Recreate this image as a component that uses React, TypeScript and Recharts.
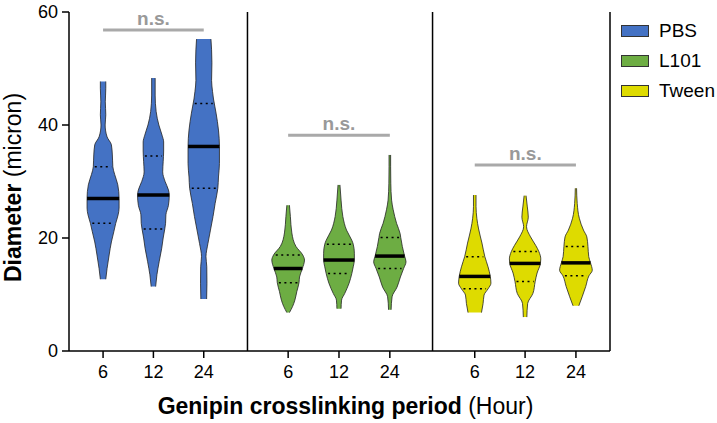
import React from 'react'
import { Area, ComposedChart, Label, ReferenceLine, XAxis, YAxis } from 'recharts'

// treatment groups + their colours
const groups = ['PBS', 'L101', 'Tween']
const groupColors = ['#4472C4', '#6DAD43', '#DEDB00']
const hours = ['6', '12', '24']

// violin centres on the x axis (1 unit ~ spacing between two violins)
const centers = [0.67, 1.66, 2.65, 4.31, 5.31, 6.31, 7.98, 8.97, 9.97]
const dividers = [3.51, 7.15]
const X_MAX = 10.64

// density profiles: [diameter, relative density]
const pbs6 = [
  [47.7, 0.17], [46.5, 0.17], [44.1, 0.14], [41.8, 0.17], [40.0, 0.13], [37.9, 0.25],
  [36.5, 0.52], [34.7, 0.58], [32.6, 0.61], [31.2, 0.73], [29.4, 0.92], [27.0, 1.0],
  [25.3, 1.0], [24.1, 0.94], [22.6, 0.79], [21.1, 0.67], [19.3, 0.52], [17.0, 0.38],
  [14.6, 0.25], [12.7, 0.17],
]
const pbs12 = [
  [48.3, 0.11], [45.3, 0.11], [42.4, 0.17], [40.0, 0.34], [38.2, 0.54], [37.0, 0.64],
  [35.4, 0.64], [33.5, 0.61], [31.7, 0.58], [30.0, 0.73], [28.5, 0.94], [27.6, 0.99],
  [25.8, 0.94], [24.1, 0.78], [22.6, 0.76], [21.6, 0.71], [20.0, 0.61], [18.2, 0.52],
  [15.8, 0.36], [13.5, 0.22], [11.4, 0.14],
]
const pbs24 = [
  [55.2, 0.45], [53.3, 0.49], [51.0, 0.51], [47.9, 0.49], [45.9, 0.55], [44.6, 0.61],
  [42.1, 0.77], [39.1, 0.92], [36.2, 0.98], [33.2, 0.98], [30.8, 0.92], [28.8, 0.88],
  [26.1, 0.71], [23.8, 0.58], [21.4, 0.42], [19.0, 0.26], [16.7, 0.14], [14.9, 0.19],
  [12.0, 0.2], [9.2, 0.18],
]
const l101_6 = [
  [25.8, 0.08], [23.8, 0.14], [20.9, 0.23], [18.5, 0.49], [17.0, 0.91], [16.1, 1.02],
  [14.6, 0.89], [13.1, 0.71], [12.1, 0.68], [10.5, 0.54], [9.0, 0.42], [7.9, 0.28],
  [6.8, 0.08],
]
const l101_12 = [
  [29.4, 0.06], [26.7, 0.13], [23.8, 0.24], [21.4, 0.47], [19.6, 0.8], [18.9, 0.89],
  [17.3, 0.96], [16.1, 0.96], [14.9, 0.89], [13.7, 0.8], [12.0, 0.63], [10.2, 0.36],
  [9.0, 0.16], [7.5, 0.13],
]
const l101_24 = [
  [34.7, 0.05], [32.6, 0.05], [29.7, 0.06], [26.7, 0.11], [25.0, 0.21], [22.6, 0.42],
  [20.8, 0.64], [20.1, 0.68], [18.5, 0.78], [16.8, 0.92], [15.8, 1.01], [14.6, 0.86],
  [13.1, 0.66], [11.3, 0.45], [9.6, 0.14], [7.3, 0.08],
]
const tween6 = [
  [27.6, 0.08], [25.6, 0.08], [23.5, 0.13], [21.6, 0.24], [19.1, 0.45], [16.7, 0.63],
  [14.9, 0.83], [13.2, 0.97], [12.0, 1.01], [11.0, 0.83], [9.9, 0.58], [8.4, 0.52],
  [6.8, 0.42],
]
const tween12 = [
  [27.5, 0.06], [25.5, 0.14], [23.7, 0.2], [22.0, 0.09], [20.2, 0.34], [18.7, 0.66],
  [17.6, 0.86], [16.3, 0.98], [15.5, 0.96], [13.8, 0.75], [12.3, 0.63], [10.2, 0.49],
  [8.4, 0.16], [6.0, 0.11],
]
const tween24 = [
  [28.8, 0.04], [26.1, 0.08], [23.5, 0.21], [21.4, 0.47], [20.2, 0.68], [18.5, 0.75],
  [16.7, 0.8], [15.6, 0.91], [14.3, 1.02], [13.3, 0.81], [11.4, 0.61], [9.6, 0.39],
  [8.0, 0.18],
]
const profiles = [pbs6, pbs12, pbs24, l101_6, l101_12, l101_24, tween6, tween12, tween24]

// summary stats per violin
const medians = [27.0, 27.6, 36.2, 14.6, 16.1, 16.8, 13.2, 15.5, 15.6]
const upperQ = [32.6, 34.5, 43.8, 17.0, 18.9, 20.1, 16.7, 17.6, 18.5]
const lowerQ = [22.6, 21.6, 28.8, 12.1, 13.7, 14.6, 11.0, 12.3, 13.3]

// "n.s." bracket heights per panel
const nsLevels = [56.8, 38.2, 32.9]

const HALF = 0.315 // max half width of a violin, x units
const FONT = '"Liberation Sans", Arial, Helvetica, sans-serif'

function widthAt(p: number[][], d: number) {
  for (let i = 0; i < p.length - 1; i++) {
    const [d0, w0] = p[i]
    const [d1, w1] = p[i + 1]
    if (d <= d0 && d >= d1) return w0 + ((d - d0) / (d1 - d0)) * (w1 - w0)
  }
  return 0
}

const violinData = profiles.map((p, i) =>
  p.map(([d, w]) => ({ d, r: [centers[i] - w * HALF, centers[i] + w * HALF] })),
)

export default function App() {
  return (
    <div style={{ position: 'absolute', left: 0, top: 0, width: 717, height: 423, fontFamily: FONT, background: '#fff' }}>
      <ComposedChart
        width={717}
        height={423}
        layout="vertical"
        margin={{ top: 12, right: 107, bottom: 42, left: 0 }}
      >
        <XAxis
          type="number"
          domain={[0, X_MAX]}
          ticks={centers}
          interval={0}
          allowDataOverflow
          height={30}
          tickSize={7}
          tickMargin={7}
          tickFormatter={(v: number) => hours[centers.indexOf(v) % 3]}
          tick={{ fontSize: 18, fill: '#000' }}
          tickLine={{ stroke: '#000', strokeWidth: 1.5 }}
          axisLine={{ stroke: '#000', strokeWidth: 1.5 }}
        >
          <Label
            content={(props: any) => {
              const vb = props.viewBox || {}
              return (
                <text x={vb.x + vb.width / 2 + 6} y={vb.y + 63} textAnchor="middle" fontSize={23} fill="#000">
                  <tspan fontWeight="bold">Genipin crosslinking period</tspan>
                  <tspan> (Hour)</tspan>
                </text>
              )
            }}
          />
        </XAxis>
        <YAxis
          type="number"
          dataKey="d"
          domain={[0, 60]}
          ticks={[0, 20, 40, 60]}
          reversed
          width={69}
          tickSize={7}
          tickMargin={4}
          tick={{ fontSize: 18, fill: '#000' }}
          tickLine={{ stroke: '#000', strokeWidth: 1.5 }}
          axisLine={{ stroke: '#000', strokeWidth: 1.5 }}
        >
          <Label
            content={(props: any) => {
              const vb = props.viewBox || {}
              const cy = vb.y + vb.height / 2 + 6
              return (
                <text transform={`translate(${vb.x + 21}, ${cy}) rotate(-90)`} textAnchor="middle" fontSize={23} fill="#000">
                  <tspan fontWeight="bold">Diameter</tspan>
                  <tspan> (micron)</tspan>
                </text>
              )
            }}
          />
        </YAxis>

        {violinData.map((data, i) => (
          <Area
            key={i}
            data={data}
            dataKey="r"
            type="monotone"
            fill={groupColors[Math.floor(i / 3)]}
            fillOpacity={1}
            stroke="#222"
            strokeWidth={0.8}
            isAnimationActive={false}
          />
        ))}

        {profiles.map((p, i) => {
          const wm = widthAt(p, medians[i]) * HALF
          const wu = widthAt(p, upperQ[i]) * HALF * 0.85
          const wl = widthAt(p, lowerQ[i]) * HALF * 0.85
          const c = centers[i]
          return [
            <ReferenceLine
              key={`m${i}`}
              segment={[{ x: c - wm, y: medians[i] }, { x: c + wm, y: medians[i] }]}
              stroke="#000"
              strokeWidth={3.5}
            />,
            <ReferenceLine
              key={`u${i}`}
              segment={[{ x: c - wu, y: upperQ[i] }, { x: c + wu, y: upperQ[i] }]}
              stroke="#000"
              strokeWidth={1.5}
              strokeDasharray="2 3.5"
            />,
            <ReferenceLine
              key={`l${i}`}
              segment={[{ x: c - wl, y: lowerQ[i] }, { x: c + wl, y: lowerQ[i] }]}
              stroke="#000"
              strokeWidth={1.5}
              strokeDasharray="2 3.5"
            />,
          ]
        })}

        {nsLevels.map((lv, g) => (
          <ReferenceLine
            key={`ns${g}`}
            segment={[{ x: centers[g * 3], y: lv }, { x: centers[g * 3 + 2], y: lv }]}
            stroke="#A9A9A9"
            strokeWidth={3}
            label={{ value: 'n.s.', position: 'top', offset: 5, fill: '#999', fontSize: 19, fontWeight: 'bold' }}
          />
        ))}

        {dividers.map((x) => (
          <ReferenceLine key={`div${x}`} x={x} stroke="#000" strokeWidth={1.5} />
        ))}
        <ReferenceLine x={X_MAX} stroke="#000" strokeWidth={1.5} />
      </ComposedChart>

      <div style={{ position: 'absolute', left: 621, top: 16 }}>
        {groups.map((g, i) => (
          <div key={g} style={{ display: 'flex', alignItems: 'center', height: 30 }}>
            <div style={{ width: 26, height: 10, background: groupColors[i], border: '1px solid #333', marginRight: 10 }} />
            <span style={{ fontSize: 19, color: '#000' }}>{g}</span>
          </div>
        ))}
      </div>
    </div>
  )
}
